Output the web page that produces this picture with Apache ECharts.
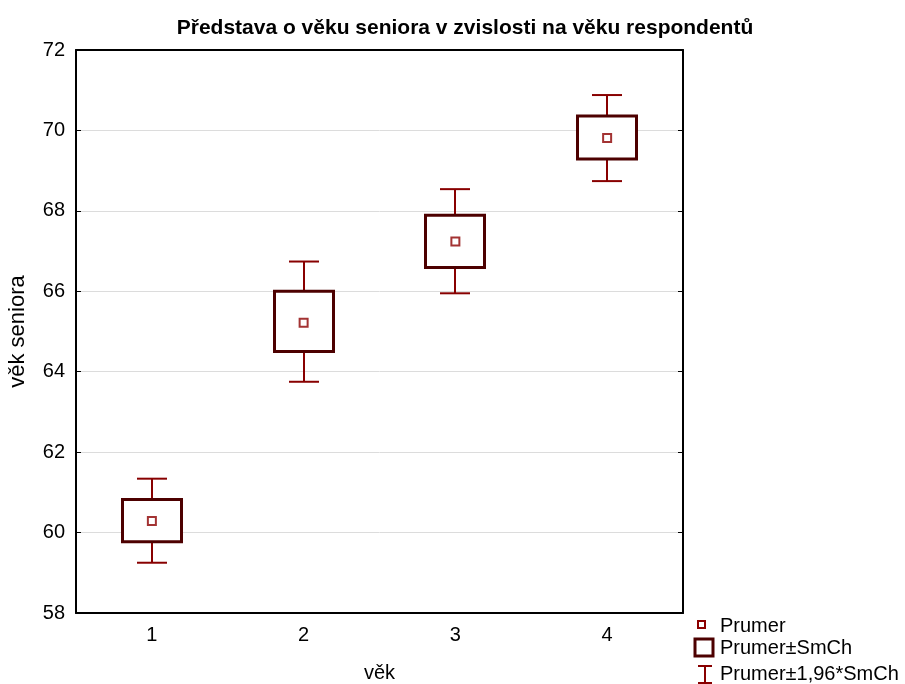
<!DOCTYPE html>
<html>
<head>
<meta charset="utf-8">
<script src="https://cdn.jsdelivr.net/npm/echarts@6/dist/echarts.min.js"></script>
<style>html,body{margin:0;padding:0;background:#fff}#c{width:905px;height:684px}</style>
</head>
<body>
<div id="c"></div>
<script>
var categories = ['1', '2', '3', '4'];
var means  = [60.29, 65.22, 67.24, 69.81];
var seLow  = [59.77, 64.50, 66.59, 69.29];
var seHigh = [60.82, 66.00, 67.89, 70.36];
var ciLow  = [59.25, 63.75, 65.95, 68.74];
var ciHigh = [61.34, 66.74, 68.54, 70.88];
var yTicks = [58, 60, 62, 64, 66, 68, 70, 72];

var FONT = 'Arial, "Liberation Sans", sans-serif';
var BOX = '#4d0000', WHISK = '#880000', MEAN = '#8c0000';

var rows = categories.map(function (c, i) {
  return [i, means[i], seLow[i], seHigh[i], ciLow[i], ciHigh[i]];
});

var chart = echarts.init(document.getElementById('c'));
chart.setOption({
  animation: false,
  title: {
    text: 'Představa o věku seniora v zvislosti na věku respondentů',
    left: 460, top: 13, textAlign: 'center',
    textStyle: { fontFamily: FONT, fontWeight: 'bold', fontSize: 21, color: '#000' }
  },
  grid: { left: 76, top: 50, width: 607, height: 563, containLabel: false, outerBoundsMode: 'none' },
  xAxis: [{
    type: 'category', data: categories, boundaryGap: true,
    name: 'věk', nameLocation: 'middle', nameGap: 50,
    nameTextStyle: { fontFamily: FONT, fontSize: 20, color: '#000' },
    axisLine: { lineStyle: { color: '#000', width: 2 } },
    axisTick: { inside: true, alignWithLabel: true, length: 5, lineStyle: { color: '#000' } },
    axisLabel: { fontFamily: FONT, fontSize: 20, color: '#000', margin: 12 },
    splitLine: { show: false }
  }, {
    type: 'category', data: categories, position: 'top', boundaryGap: true,
    axisLine: { lineStyle: { color: '#000', width: 2 } },
    axisTick: { inside: true, alignWithLabel: true, length: 5, lineStyle: { color: '#000' } },
    axisLabel: { show: false }
  }],
  yAxis: [{
    type: 'value', min: yTicks[0], max: yTicks[yTicks.length - 1], interval: 2,
    name: 'věk seniora', nameLocation: 'middle', nameGap: 47,
    nameTextStyle: { fontFamily: FONT, fontSize: 22, color: '#000' },
    axisLine: { show: true, lineStyle: { color: '#000', width: 2 } },
    axisTick: { show: true, inside: true, length: 5, lineStyle: { color: '#000' } },
    axisLabel: { fontFamily: FONT, fontSize: 20, color: '#000', margin: 11 },
    splitLine: { show: true, lineStyle: { color: '#dcdcdc', width: 1 } }
  }, {
    type: 'value', position: 'right', min: yTicks[0], max: yTicks[yTicks.length - 1], interval: 2,
    axisLine: { show: true, lineStyle: { color: '#000', width: 2 } },
    axisTick: { show: true, inside: true, length: 5, lineStyle: { color: '#000' } },
    axisLabel: { show: false },
    splitLine: { show: false }
  }],
  series: [{
    type: 'custom', name: 'Prumer±1,96*SmCh', data: rows, z: 2,
    encode: { x: 0, y: [4, 5] },
    renderItem: function (params, api) {
      var x = api.value(0);
      var lo = api.coord([x, api.value(4)]);
      var hi = api.coord([x, api.value(5)]);
      var bl = api.coord([x, api.value(2)]);
      var bh = api.coord([x, api.value(3)]);
      var cx = Math.round(lo[0]), hw = 15;
      var st = { stroke: WHISK, lineWidth: 2 };
      return { type: 'group', children: [
        { type: 'line', shape: { x1: cx, y1: lo[1], x2: cx, y2: bl[1] }, style: st },
        { type: 'line', shape: { x1: cx, y1: hi[1], x2: cx, y2: bh[1] }, style: st },
        { type: 'line', shape: { x1: cx - hw, y1: lo[1], x2: cx + hw, y2: lo[1] }, style: st },
        { type: 'line', shape: { x1: cx - hw, y1: hi[1], x2: cx + hw, y2: hi[1] }, style: st }
      ]};
    }
  }, {
    type: 'custom', name: 'Prumer±SmCh', data: rows, z: 3,
    encode: { x: 0, y: [2, 3] },
    renderItem: function (params, api) {
      var x = api.value(0);
      var bl = api.coord([x, api.value(2)]);
      var bh = api.coord([x, api.value(3)]);
      var cx = Math.round(bl[0]), hw = 29.5;
      return { type: 'rect',
        shape: { x: cx - hw, y: bh[1], width: hw * 2, height: bl[1] - bh[1] },
        style: { fill: '#fff', stroke: BOX, lineWidth: 3 } };
    }
  }, {
    type: 'scatter', name: 'Prumer', z: 4,
    data: categories.map(function (c, i) { return [i, means[i]]; }),
    symbol: 'rect', symbolSize: 8,
    itemStyle: { color: '#fff', borderColor: MEAN, borderWidth: 2 }
  }],
  graphic: [
    { type: 'rect', shape: { x: 698, y: 621, width: 7, height: 7 },
      style: { fill: '#fff', stroke: MEAN, lineWidth: 2 } },
    { type: 'text', x: 720, y: 626, style: { text: 'Prumer', font: '20px ' + FONT, fill: '#000', verticalAlign: 'middle' } },
    { type: 'rect', shape: { x: 695, y: 639, width: 18, height: 17 },
      style: { fill: '#fff', stroke: BOX, lineWidth: 3 } },
    { type: 'text', x: 720, y: 648, style: { text: 'Prumer±SmCh', font: '20px ' + FONT, fill: '#000', verticalAlign: 'middle' } },
    { type: 'line', shape: { x1: 698, y1: 666, x2: 712, y2: 666 }, style: { stroke: WHISK, lineWidth: 2 } },
    { type: 'line', shape: { x1: 705, y1: 666, x2: 705, y2: 683 }, style: { stroke: WHISK, lineWidth: 2 } },
    { type: 'line', shape: { x1: 698, y1: 683, x2: 712, y2: 683 }, style: { stroke: WHISK, lineWidth: 2 } },
    { type: 'text', x: 720, y: 674, style: { text: 'Prumer±1,96*SmCh', font: '20px ' + FONT, fill: '#000', verticalAlign: 'middle' } }
  ]
});
</script>
</body>
</html>
